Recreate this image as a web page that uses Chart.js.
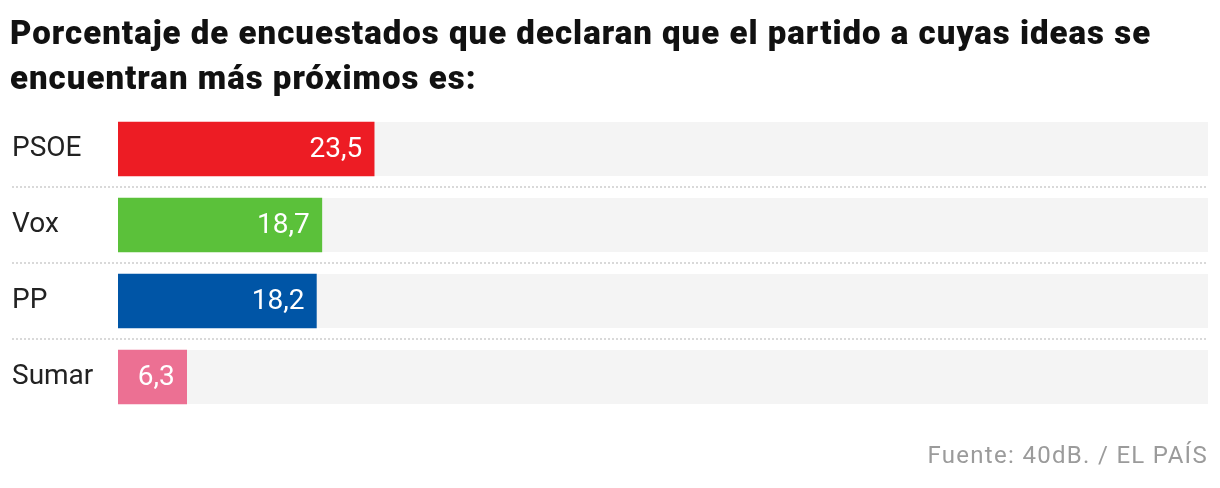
<!DOCTYPE html>
<html>
<head>
<meta charset="utf-8">
<script src="https://cdn.jsdelivr.net/npm/chart.js@4"></script>
<style>
  html, body { margin: 0; padding: 0; background: #fff; }
  #wrap { position: relative; width: 1220px; height: 488px; }
  #title {
    position: absolute; left: 10px; top: 10px; white-space: nowrap;
    font-family: "Roboto", sans-serif; font-weight: 900; font-size: 33px;
    line-height: 45px; color: #111; letter-spacing: 1px;
  }
  #source {
    position: absolute; right: 12px; top: 441px;
    font-family: "Roboto", sans-serif; font-size: 24px; color: #9b9b9b;
    letter-spacing: 1.3px;
  }
</style>
</head>
<body>
<div id="wrap">
  <canvas id="chart" width="1220" height="488"></canvas>
  <div id="title">Porcentaje de encuestados que declaran que el partido a cuyas ideas se<br>encuentran más próximos es:</div>
  <div id="source">Fuente: 40dB. / EL PAÍS</div>
</div>
<script>
const parties = ["PSOE", "Vox", "PP", "Sumar"];
const values = [23.5, 18.7, 18.2, 6.3];
const colors = ["#ed1c24", "#5bc13a", "#0055a6", "#ec7093"];
const axisMax = 100;

// grey track behind each bar + dotted separators between rows
const tracks = {
  id: "tracks",
  beforeDatasetsDraw(chart) {
    const ctx = chart.ctx;
    const area = chart.chartArea;
    const y = chart.scales.y;
    ctx.save();
    chart.getDatasetMeta(0).data.forEach((bar) => {
      ctx.fillStyle = "#f4f4f4";
      ctx.fillRect(area.left, bar.y - bar.height / 2, area.right - area.left, bar.height);
    });
    ctx.strokeStyle = "#d9d9d9";
    ctx.lineWidth = 2;
    ctx.setLineDash([2, 2]);
    for (let i = 0; i < parties.length - 1; i++) {
      const yy = Math.round((y.getPixelForValue(i) + y.getPixelForValue(i + 1)) / 2);
      ctx.beginPath();
      ctx.moveTo(12, yy);
      ctx.lineTo(area.right, yy);
      ctx.stroke();
    }
    ctx.restore();
  },
  afterDatasetsDraw(chart) {
    const ctx = chart.ctx;
    ctx.save();
    ctx.fillStyle = "#fff";
    ctx.font = "28px Roboto";
    ctx.textAlign = "right";
    ctx.textBaseline = "middle";
    chart.getDatasetMeta(0).data.forEach((bar, i) => {
      ctx.fillText(values[i].toFixed(1).replace(".", ","), bar.x - 12, bar.y + 1);
    });
    ctx.restore();
  }
};

new Chart(document.getElementById("chart"), {
  type: "bar",
  data: {
    labels: parties,
    datasets: [{
      data: values,
      backgroundColor: colors,
      barThickness: 54,
      borderWidth: 0
    }]
  },
  options: {
    indexAxis: "y",
    responsive: false,
    animation: false,
    layout: { padding: { left: 12, right: 12, top: 111, bottom: 73 } },
    scales: {
      x: { display: false, min: 0, max: axisMax },
      y: {
        grid: { display: false },
        border: { display: false },
        afterFit(scale) { scale.width = 106; },
        ticks: {
          crossAlign: "far",
          color: "#222",
          font: { family: "Roboto", size: 28 }
        }
      }
    },
    plugins: {
      legend: { display: false },
      tooltip: { enabled: false }
    }
  },
  plugins: [tracks]
});
</script>
</body>
</html>
